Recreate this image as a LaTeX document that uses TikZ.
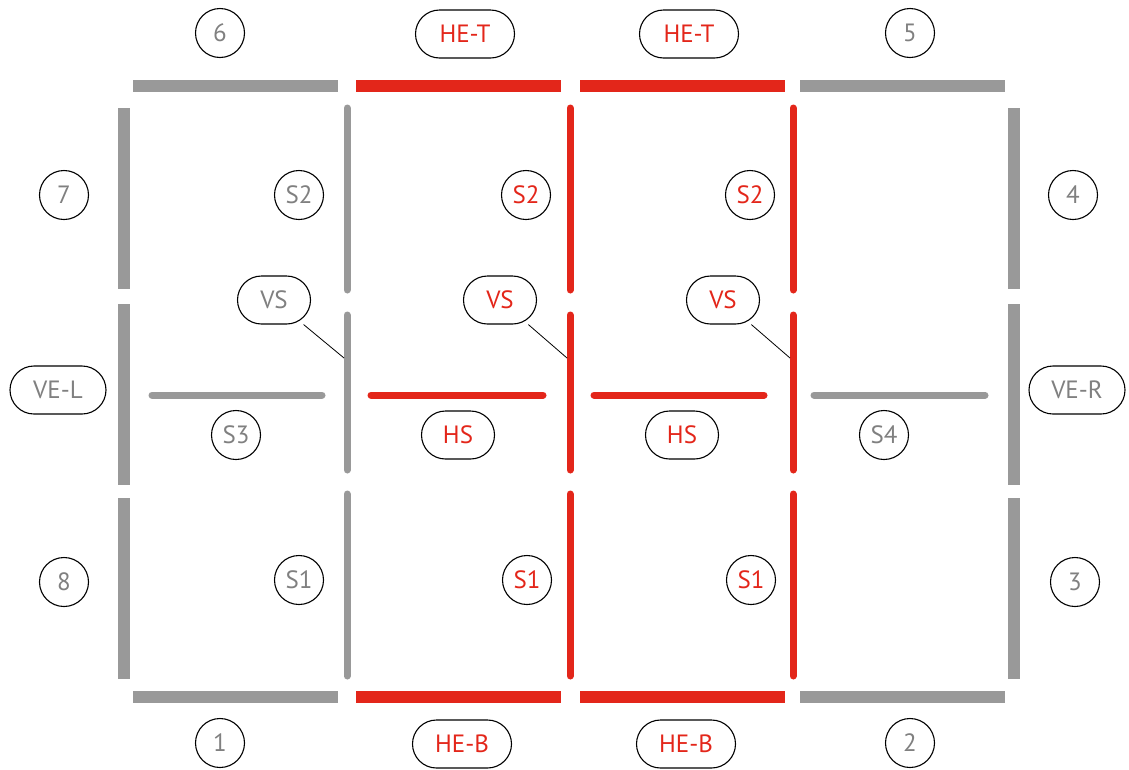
\documentclass[tikz,border=0pt]{standalone}
\usepackage{fontspec}
\setmainfont{PT Sans}
\definecolor{wallgray}{RGB}{153,153,153}
\definecolor{labelgray}{RGB}{128,128,128}
\definecolor{hotred}{RGB}{227,38,26}
\begin{document}
\begin{tikzpicture}[x=1pt, y=-1pt,
    edgebar/.style={line width=12pt},
    splitbar/.style={line width=7pt, line cap=round},
    tag/.style={circle, draw, line width=1.1pt, minimum size=49pt, inner sep=0pt, font=\fontsize{25}{28}\selectfont},
    pill/.style={rectangle, rounded corners=24pt, draw, line width=1.1pt, minimum height=48pt, minimum width=73pt, inner sep=0pt, font=\fontsize{25}{28}\selectfont},
    widepill/.style={pill, minimum width=99pt}
  ]
  \useasboundingbox (0,0) rectangle (1129,769);
  % outer edges
  \draw[edgebar, wallgray] (133,86) -- (338,86) (800,86) -- (1005,86);
  \draw[edgebar, hotred] (356,86) -- (561,86) (580,86) -- (785,86);
  \draw[edgebar, wallgray] (133,697) -- (338,697) (800,697) -- (1005,697);
  \draw[edgebar, hotred] (356,697) -- (561,697) (580,697) -- (785,697);
  \foreach \ya/\yb in {108/289, 304/485, 498/679} {
    \draw[edgebar, wallgray] (124,\ya) -- (124,\yb) (1014,\ya) -- (1014,\yb);
  }
  % vertical splits
  \foreach \ya/\yb in {108/290, 315/470, 494/676} {
    \draw[splitbar, wallgray] (347,\ya) -- (347,\yb);
    \draw[splitbar, hotred] (570,\ya) -- (570,\yb) (793,\ya) -- (793,\yb);
  }
  % horizontal splits
  \draw[splitbar, wallgray] (152,395) -- (322,395) (814,395) -- (985,395);
  \draw[splitbar, hotred] (371,395) -- (543,395) (594,395) -- (764,395);

  % labels
  \node[tag, text=labelgray] (n6) at (220,33) {6};
  \node[widepill, text=hotred] (het1) at (465,34) {HE-T};
  \node[widepill, text=hotred] (het2) at (689,34) {HE-T};
  \node[tag, text=labelgray] (n5) at (910,33) {5};

  \node[tag, text=labelgray] (n7) at (64,195) {7};
  \node[tag, text=labelgray] (s2a) at (299,195) {S2};
  \node[tag, text=hotred] (s2b) at (526,195) {S2};
  \node[tag, text=hotred] (s2c) at (750,195) {S2};
  \node[tag, text=labelgray] (n4) at (1073,195) {4};

  \node[pill, text=labelgray] (vs1) at (274,300) {VS};
  \node[pill, text=hotred] (vs2) at (500,300) {VS};
  \node[pill, text=hotred] (vs3) at (723,300) {VS};
  \coordinate (vs1tip) at (344,358);
  \coordinate (vs2tip) at (567,358);
  \coordinate (vs3tip) at (790,358);
  \draw[line width=0.8pt] (vs1) -- (vs1tip) (vs2) -- (vs2tip) (vs3) -- (vs3tip);

  \node[pill, minimum width=96pt, text=labelgray] (vel) at (58,390) {VE-L};
  \node[pill, minimum width=96pt, text=labelgray] (ver) at (1077,390) {VE-R};

  \node[tag, text=labelgray] (s3) at (236,435) {S3};
  \node[pill, text=hotred] (hs1) at (458,435) {HS};
  \node[pill, text=hotred] (hs2) at (682,435) {HS};
  \node[tag, text=labelgray] (s4) at (884,435) {S4};

  \node[tag, text=labelgray] (n8) at (64,582) {8};
  \node[tag, text=labelgray] (s1a) at (299,580) {S1};
  \node[tag, text=hotred] (s1b) at (527,580) {S1};
  \node[tag, text=hotred] (s1c) at (751,580) {S1};
  \node[tag, text=labelgray] (n3) at (1075,582) {3};

  \node[tag, text=labelgray] (n1) at (220,743) {1};
  \node[widepill, text=hotred] (heb1) at (462,744) {HE-B};
  \node[widepill, text=hotred] (heb2) at (686,744) {HE-B};
  \node[tag, text=labelgray] (n2) at (910,743) {2};
\end{tikzpicture}
\end{document}
